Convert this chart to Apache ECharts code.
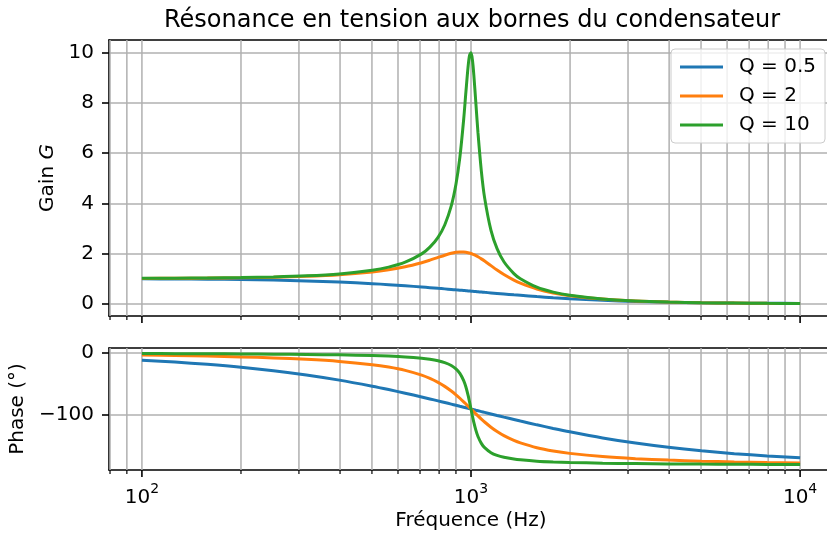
<!DOCTYPE html>
<html><head><meta charset="utf-8">
<script src="https://cdn.jsdelivr.net/npm/echarts@6/dist/echarts.min.js"></script>
<style>html,body{margin:0;padding:0;background:#fff}#c{width:827px;height:535px}</style>
</head><body><div id="c"></div>
<script>
const freq = [100,126,158,200,251,316,398,501,562,631,708,750,794,832,871,900,925,950,965,980,990,1000,1010,1020,1035,1050,1075,1100,1150,1200,1259,1350,1413,1585,1778,1995,2512,3162,3981,5012,6310,7943,10000];
const gainQ05 = [0.990,0.984,0.976,0.962,0.941,0.909,0.863,0.799,0.760,0.715,0.666,0.640,0.613,0.591,0.569,0.552,0.539,0.526,0.518,0.510,0.505,0.500,0.495,0.490,0.483,0.476,0.464,0.452,0.431,0.410,0.387,0.354,0.334,0.285,0.240,0.201,0.137,0.091,0.059,0.038,0.025,0.016,0.010];
const gainQ2 = [1.009,1.014,1.022,1.036,1.058,1.094,1.156,1.266,1.352,1.472,1.635,1.735,1.844,1.932,2.008,2.047,2.064,2.062,2.052,2.034,2.019,2.000,1.979,1.955,1.915,1.869,1.787,1.699,1.517,1.344,1.164,0.940,0.819,0.586,0.428,0.318,0.183,0.109,0.067,0.041,0.026,0.016,0.010];
const gainQ10 = [1.010,1.016,1.026,1.041,1.067,1.110,1.187,1.332,1.457,1.653,1.985,2.253,2.646,3.137,3.897,4.757,5.832,7.346,8.439,9.461,9.903,10.000,9.711,9.115,7.959,6.815,5.287,4.218,2.921,2.193,1.671,1.200,0.994,0.658,0.461,0.335,0.188,0.111,0.067,0.041,0.026,0.016,0.010];
const phaseQ05 = [-11.42,-14.35,-18.01,-22.62,-28.20,-35.10,-43.42,-53.24,-58.67,-64.50,-70.60,-73.74,-76.90,-79.52,-82.11,-83.97,-85.54,-87.06,-87.96,-88.84,-89.42,-90.00,-90.57,-91.13,-91.97,-92.79,-94.14,-95.45,-97.98,-100.39,-103.08,-106.94,-109.43,-115.50,-121.29,-126.75,-136.58,-144.90,-151.80,-157.43,-161.99,-165.65,-168.58];
const phaseQ2 = [-2.89,-3.66,-4.65,-5.95,-7.64,-9.96,-13.31,-18.50,-22.33,-27.66,-35.37,-40.60,-47.05,-53.50,-61.00,-67.11,-72.66,-78.40,-81.89,-85.38,-87.70,-90.00,-92.28,-94.53,-97.84,-101.05,-106.15,-110.90,-119.29,-126.25,-132.90,-140.63,-144.67,-152.34,-157.64,-161.49,-166.69,-170.04,-172.36,-174.07,-175.35,-176.34,-177.11];
const phaseQ10 = [-0.58,-0.73,-0.93,-1.19,-1.54,-2.01,-2.71,-3.83,-4.70,-5.99,-8.08,-9.73,-12.13,-15.13,-19.84,-25.35,-32.65,-44.26,-54.52,-68.00,-78.63,-90.00,-101.26,-111.61,-124.53,-134.31,-145.36,-152.35,-160.37,-164.74,-167.86,-170.68,-171.93,-174.02,-175.30,-176.17,-177.29,-177.99,-178.46,-178.81,-179.07,-179.27,-179.42];
const seriesNames = ['Q = 0.5', 'Q = 2', 'Q = 10'];
const xMajorTicks = [100, 1000, 10000];
const xMinorTicks = [80, 90, 200, 300, 400, 500, 600, 700, 800, 900, 2000, 3000, 4000, 5000, 6000, 7000, 8000, 9000];
const gainTicks = [0, 2, 4, 6, 8, 10];
const phaseTicks = [-100, 0];

const FONT = 'DejaVu Sans';
const colors = ['#1f77b4', '#ff7f0e', '#2ca02c'];
const GRIDC = '#b0b0b0';
const SPINE = { show: true, onZero: false, lineStyle: { color: '#000', width: 1.6 } };

function tickSeries(idx, values, len, w) {
  return {
    type: 'custom', xAxisIndex: idx, yAxisIndex: idx, silent: true, z: 1, clip: false,
    data: values.map(v => [v, 0]),
    renderItem: (params, api) => {
      const cs = params.coordSys;
      const x = api.coord([api.value(0), api.value(1)])[0];
      const yb = cs.y + cs.height;
      return { type: 'group', children: [
        { type: 'line', shape: { x1: x, y1: cs.y, x2: x, y2: yb }, style: { stroke: GRIDC, lineWidth: 1.5 } },
        { type: 'line', shape: { x1: x, y1: yb, x2: x, y2: yb + len }, style: { stroke: '#000', lineWidth: w } }
      ] };
    }
  };
}
function lineSeries(idx, name, ys, c) {
  return {
    type: 'line', name: name, xAxisIndex: idx, yAxisIndex: idx, z: 3,
    data: freq.map((f, i) => [f, ys[i]]), symbol: 'none', showSymbol: false,
    smooth: 0.3, lineStyle: { width: 3, color: c }, itemStyle: { color: c }
  };
}
function isPow10(v) { const l = Math.log10(v); return Math.abs(l - Math.round(l)) < 1e-6; }
const minus = v => (v < 0 ? '\u2212' + Math.abs(v) : String(v));

const bottomX = [0, 1].map(i => ({
  type: 'log', logBase: 10, gridIndex: i, min: 79.43, max: 12589, position: 'bottom',
  axisLine: SPINE, axisTick: { show: false }, splitLine: { show: false },
  axisLabel: { show: i === 1, margin: 12, color: '#000', fontFamily: FONT,
    formatter: v => isPow10(v) ? '{b|10}{s|' + Math.round(Math.log10(v)) + '}' : '',
    rich: { b: { fontSize: 20, fontFamily: FONT, color: '#000', verticalAlign: 'bottom', lineHeight: 26 },
            s: { fontSize: 14, fontFamily: FONT, color: '#000', verticalAlign: 'top', lineHeight: 26 } } },
  name: i === 1 ? 'Fréquence (Hz)' : '', nameLocation: 'middle', nameGap: 41,
  nameTextStyle: { fontSize: 20, fontFamily: FONT, color: '#000' }
}));
const topX = [0, 1].map(i => ({
  type: 'log', logBase: 10, gridIndex: i, min: 79.43, max: 12589, position: 'top',
  axisLine: SPINE, axisTick: { show: false }, splitLine: { show: false }, axisLabel: { show: false }
}));

const chart = echarts.init(document.getElementById('c'), null, { renderer: 'canvas' });
chart.setOption({
  animation: false,
  backgroundColor: '#fff',
  title: { text: 'Résonance en tension aux bornes du condensateur', left: 467, top: 4, textAlign: 'center',
    textStyle: { fontSize: 24, fontWeight: 'normal', fontFamily: FONT, color: '#000' } },
  legend: { data: seriesNames, orient: 'vertical', left: 671, top: 49, padding: [8, 9, 8, 9], itemGap: 9,
    itemWidth: 43, itemHeight: 3, icon: 'rect', backgroundColor: 'rgba(255,255,255,0.8)', borderColor: '#cccccc',
    borderWidth: 1, borderRadius: 4,
    textStyle: { fontSize: 20, fontFamily: FONT, color: '#000', padding: [0, 0, 0, 11], lineHeight: 20 } },
  grid: [
    { left: 109, top: 40, width: 724, height: 276, show: false, outerBoundsMode: 'none', containLabel: false },
    { left: 109, top: 348, width: 724, height: 122, show: false, outerBoundsMode: 'none', containLabel: false }
  ],
  xAxis: bottomX.concat(topX),
  yAxis: [
    { type: 'value', gridIndex: 0, min: -0.49, max: 10.51,
      axisLine: SPINE,
      axisTick: { show: true, length: 7, lineStyle: { color: '#000', width: 1.6 }, customValues: gainTicks },
      axisLabel: { margin: 15, fontSize: 20, fontFamily: FONT, color: '#000', customValues: gainTicks, formatter: minus },
      splitLine: { show: true, lineStyle: { color: GRIDC, width: 1.5 } },
      name: 'Gain {i|G}', nameLocation: 'middle', nameGap: 44, nameRotate: 90,
      nameTextStyle: { fontSize: 20, fontFamily: FONT, color: '#000', rich: { i: { fontSize: 20, fontFamily: FONT, fontStyle: 'italic', color: '#000' } } } },
    { type: 'value', gridIndex: 1, min: -188.3, max: 8.36,
      axisLine: SPINE,
      axisTick: { show: true, length: 7, lineStyle: { color: '#000', width: 1.6 }, customValues: phaseTicks },
      axisLabel: { margin: 15, fontSize: 20, fontFamily: FONT, color: '#000', customValues: phaseTicks, formatter: minus },
      splitLine: { show: true, lineStyle: { color: GRIDC, width: 1.5 } },
      name: 'Phase (°)', nameLocation: 'middle', nameGap: 71, nameRotate: 90,
      nameTextStyle: { fontSize: 20, fontFamily: FONT, color: '#000' } }
  ],
  series: [
    tickSeries(0, xMajorTicks, 7, 1.6), tickSeries(0, xMinorTicks, 4, 1.2),
    tickSeries(1, xMajorTicks, 7, 1.6), tickSeries(1, xMinorTicks, 4, 1.2),
    lineSeries(0, seriesNames[0], gainQ05, colors[0]),
    lineSeries(0, seriesNames[1], gainQ2, colors[1]),
    lineSeries(0, seriesNames[2], gainQ10, colors[2]),
    lineSeries(1, seriesNames[0], phaseQ05, colors[0]),
    lineSeries(1, seriesNames[1], phaseQ2, colors[1]),
    lineSeries(1, seriesNames[2], phaseQ10, colors[2])
  ]
});
</script></body></html>
